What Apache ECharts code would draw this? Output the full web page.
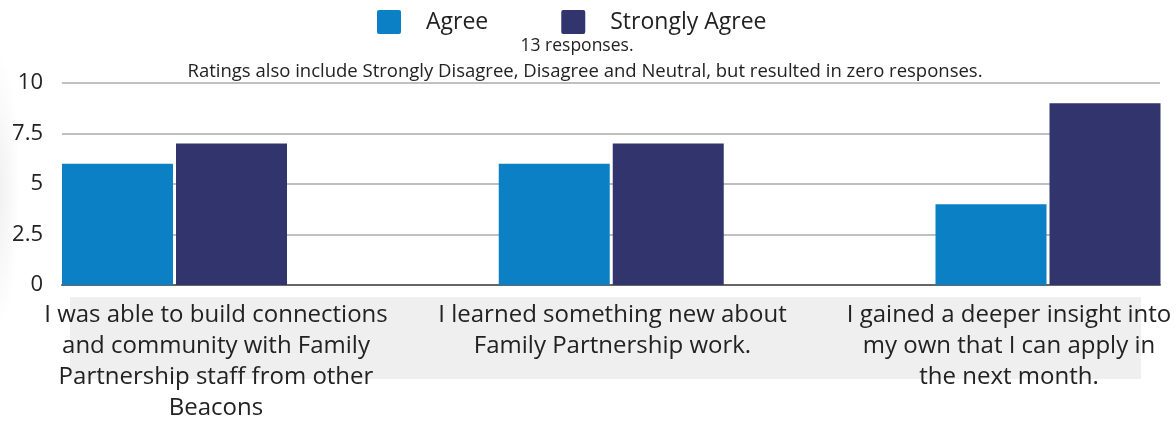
<!DOCTYPE html>
<html>
<head>
<meta charset="utf-8">
<script src="https://cdn.jsdelivr.net/npm/echarts@6/dist/echarts.min.js"></script>
<style>
  html, body { margin: 0; padding: 0; background: #fff; }
  #wrap { position: relative; width: 1176px; height: 421px; overflow: hidden; }
  #chart { position: absolute; left: 0; top: 0; width: 1176px; height: 421px; }
  #edge { position: absolute; left: -24px; top: 50px; width: 44px; height: 280px;
          background: radial-gradient(ellipse at center, rgba(0,0,0,0.06) 0%, rgba(0,0,0,0) 70%);
          pointer-events: none; z-index: 2; }
</style>
</head>
<body>
<div id="wrap">
  <div id="chart"></div>
  <div id="edge"></div>
</div>
<script>
// Survey statements (x categories) and response counts per rating
const categories = [
  'I was able to build connections\nand community with Family\nPartnership staff from other\nBeacons',
  'I learned something new about\nFamily Partnership work.',
  'I gained a deeper insight into\nmy own that I can apply in\nthe next month.'
];
const agree = [6, 6, 4];
const stronglyAgree = [7, 7, 9];
const seriesNames = ['Agree', 'Strongly Agree'];
const subtitleLines = [
  '13 responses.',
  'Ratings also include Strongly Disagree, Disagree and Neutral, but resulted in zero responses.'
];
const yMin = 0, yMax = 10, yStep = 2.5;

const FONT = "'Open Sans', 'Noto Sans', sans-serif";
const TEXT = '#222222';
const COLORS = ['#0b80c5', '#32356d'];
// square legend swatch with slightly rounded corners
const SWATCH = 'path://M2,0 H22 A2,2 0 0 1 24,2 V22 A2,2 0 0 1 22,24 H2 A2,2 0 0 1 0,22 V2 A2,2 0 0 1 2,0 Z';

const chart = echarts.init(document.getElementById('chart'), null, { renderer: 'canvas' });

const gridBox = { top: 83, bottom: 136, containLabel: false, outerBoundsMode: 'none' };

chart.setOption({
  animation: false,
  textStyle: { fontFamily: FONT, color: TEXT },
  color: COLORS,
  legend: {
    data: seriesNames,
    left: 377,
    top: 10,
    padding: 0,
    itemWidth: 24,
    itemHeight: 24,
    itemGap: 73,
    icon: SWATCH,
    textStyle: { fontFamily: FONT, fontSize: 23, color: TEXT, padding: [0, 0, 0, 20] }
  },
  graphic: [
    {
      type: 'rect', z: -10, silent: true,
      shape: { x: 70, y: 297, width: 1071, height: 82 },
      style: { fill: '#efefef' }
    },
    {
      type: 'text', x: 577, y: 46, silent: true,
      style: { text: subtitleLines[0], fontFamily: FONT, fontSize: 17.5, fill: TEXT,
               textAlign: 'center', textVerticalAlign: 'middle' }
    },
    {
      type: 'text', x: 585, y: 72, silent: true,
      style: { text: subtitleLines[1], fontFamily: FONT, fontSize: 18.5, fill: TEXT,
               textAlign: 'center', textVerticalAlign: 'middle' }
    }
  ],
  grid: [
    // value scale, gridlines and baseline
    Object.assign({ left: 62, right: 16 }, gridBox),
    // bar groups
    Object.assign({ left: 174.5, right: 128 }, gridBox),
    // statement labels
    Object.assign({ left: 216, right: 167 }, gridBox)
  ],
  xAxis: [
    {
      gridIndex: 0, type: 'category', data: categories,
      axisLine: { show: true, lineStyle: { color: '#666666', width: 2 } },
      axisTick: { show: false }, axisLabel: { show: false }, splitLine: { show: false }
    },
    {
      gridIndex: 1, type: 'category', data: categories, boundaryGap: false,
      axisLine: { show: false }, axisTick: { show: false }, axisLabel: { show: false },
      splitLine: { show: false }
    },
    {
      gridIndex: 2, type: 'category', data: categories, boundaryGap: false,
      axisLine: { show: false }, axisTick: { show: false }, splitLine: { show: false },
      axisLabel: {
        show: true, interval: 0, margin: 15, fontFamily: FONT, fontSize: 24,
        lineHeight: 31, color: TEXT, align: 'center', hideOverlap: false
      }
    }
  ],
  yAxis: [
    {
      gridIndex: 0, type: 'value', min: yMin, max: yMax, interval: yStep,
      axisLine: { show: false }, axisTick: { show: false },
      axisLabel: { margin: 19, fontFamily: FONT, fontSize: 22, color: TEXT },
      splitLine: { show: true, lineStyle: { color: '#c0c0c0', width: 2 } }
    },
    {
      gridIndex: 1, type: 'value', min: yMin, max: yMax, interval: yStep,
      axisLine: { show: false }, axisTick: { show: false }, axisLabel: { show: false },
      splitLine: { show: false }
    },
    {
      gridIndex: 2, type: 'value', min: yMin, max: yMax, interval: yStep,
      axisLine: { show: false }, axisTick: { show: false }, axisLabel: { show: false },
      splitLine: { show: false }
    }
  ],
  series: [
    {
      name: seriesNames[0], type: 'bar', xAxisIndex: 1, yAxisIndex: 1,
      data: agree, barWidth: 111, barGap: '2.7%', clip: false, z: 3,
      itemStyle: { color: COLORS[0] }
    },
    {
      name: seriesNames[1], type: 'bar', xAxisIndex: 1, yAxisIndex: 1,
      data: stronglyAgree, barWidth: 111, barGap: '2.7%', clip: false, z: 3,
      itemStyle: { color: COLORS[1] }
    }
  ]
});
</script>
</body>
</html>
